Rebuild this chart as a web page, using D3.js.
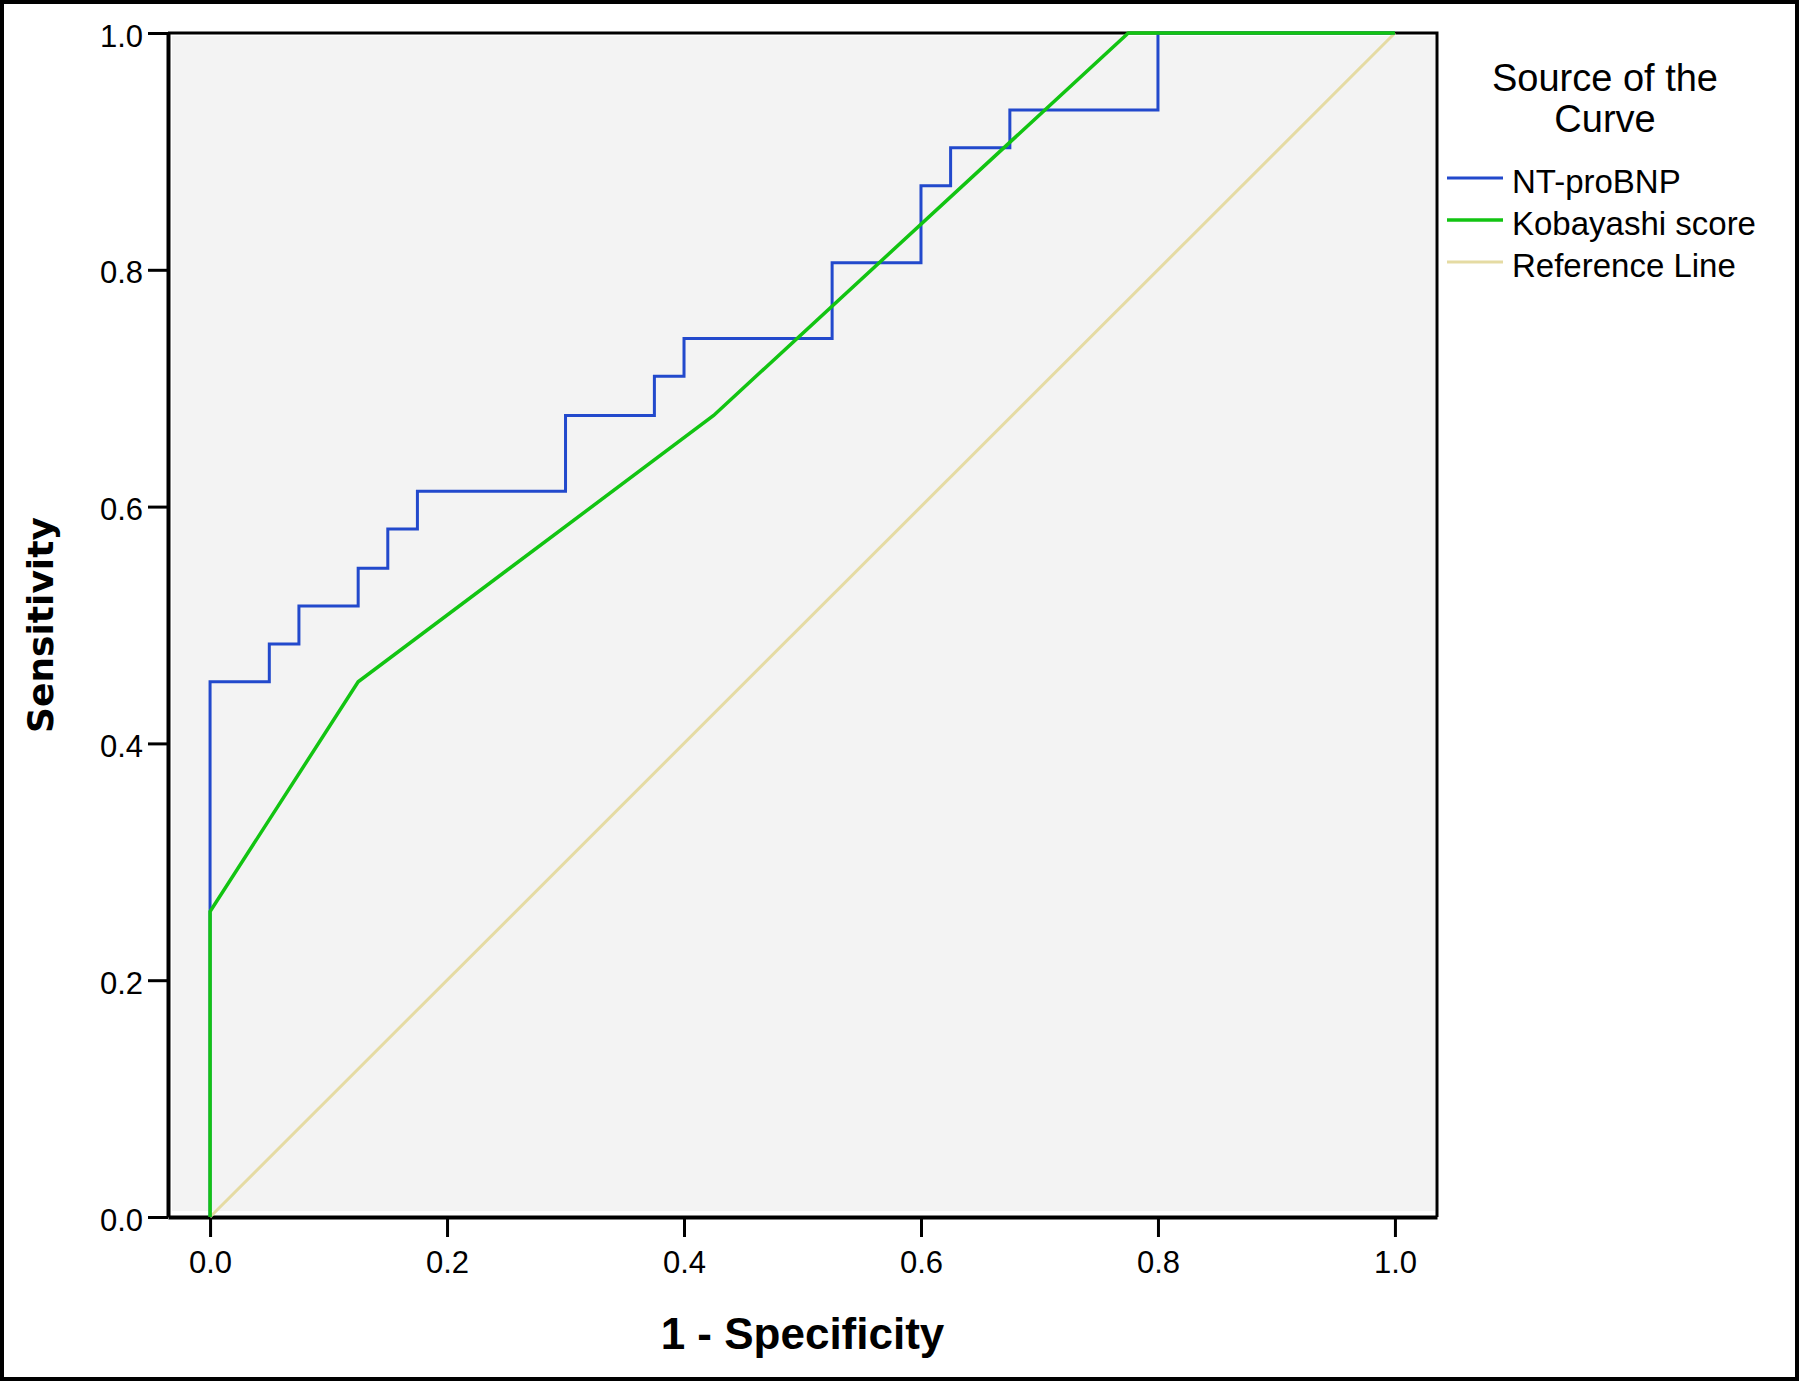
<!DOCTYPE html>
<html>
<head>
<meta charset="utf-8">
<script src="https://cdn.jsdelivr.net/npm/d3@7"></script>
<style>
  body { margin: 0; background: #fff; }
  text { font-family: "Liberation Sans", Arial, sans-serif; fill: #000; }
</style>
</head>
<body>
<div id="roc"></div>
<script>
// ROC points (1 - specificity, sensitivity)
const ntFpr = [0, 0, 0.05, 0.05, 0.075, 0.075, 0.125, 0.125, 0.15, 0.15, 0.175, 0.175, 0.3, 0.3, 0.375, 0.375, 0.4, 0.4, 0.525, 0.525, 0.6, 0.6, 0.625, 0.625, 0.675, 0.675, 0.8, 0.8, 1.0];
const ntTpr = [0, 0.452, 0.452, 0.484, 0.484, 0.516, 0.516, 0.548, 0.548, 0.581, 0.581, 0.613, 0.613, 0.677, 0.677, 0.710, 0.710, 0.742, 0.742, 0.806, 0.806, 0.871, 0.871, 0.903, 0.903, 0.935, 0.935, 1.0, 1.0];
const kobFpr = [0, 0, 0.125, 0.425, 0.775, 1.0];
const kobTpr = [0, 0.258, 0.452, 0.677, 1.0, 1.0];
const refFpr = [0, 1];
const refTpr = [0, 1];
const seriesNames = ["NT-proBNP", "Kobayashi score", "Reference Line"];
const tickValues = [0, 0.2, 0.4, 0.6, 0.8, 1.0];

chartMaker();

function chartMaker() {
  const width = 1800;
  const height = 1382;
  const plot = { left: 168, right: 1437, top: 33, bottom: 1217 };
  const colors = ["#2249cc", "#12c412", "#e5dba3"];

  const svg = d3.select("#roc")
    .append("svg")
      .attr("width", width)
      .attr("height", height);

  svg.append("rect")
    .attr("x", 0).attr("y", 0)
    .attr("width", width).attr("height", height)
    .attr("fill", "#fff");

  const xScale = d3.scaleLinear()
    .domain([-0.0355, 1.0355])
    .range([plot.left, plot.right]);

  const yScale = d3.scaleLinear()
    .domain([0, 1])
    .range([plot.bottom, plot.top]);

  // plot background
  svg.append("rect")
    .attr("x", plot.left + 4)
    .attr("y", plot.top + 3)
    .attr("width", plot.right - plot.left - 6)
    .attr("height", plot.bottom - plot.top - 9)
    .attr("fill", "#f3f3f3");

  // frame top + right
  svg.append("path")
    .attr("d", `M${plot.left},${plot.top}H${plot.right}V${plot.bottom}`)
    .attr("fill", "none")
    .attr("stroke", "#000")
    .attr("stroke-width", 3);

  const xAxis = d3.axisBottom(xScale)
    .tickValues(tickValues)
    .tickFormat(d3.format(".1f"))
    .tickSizeInner(20)
    .tickSizeOuter(0)
    .tickPadding(14);

  const yAxis = d3.axisLeft(yScale)
    .tickValues(tickValues)
    .tickFormat(d3.format(".1f"))
    .tickSizeInner(20)
    .tickSizeOuter(0)
    .tickPadding(5);

  const gx = svg.append("g")
    .attr("transform", `translate(0,${plot.bottom})`)
    .call(xAxis);

  const gy = svg.append("g")
    .attr("transform", `translate(${plot.left},0)`)
    .call(yAxis);

  [gx, gy].forEach(g => {
    g.select(".domain").attr("stroke", "#000").attr("stroke-width", 4);
    g.selectAll(".tick line").attr("stroke", "#000").attr("stroke-width", 3);
    g.selectAll(".tick text")
      .style("font-family", '"Liberation Sans", Arial, sans-serif')
      .style("font-size", "31px")
      .attr("fill", "#000");
  });
  gy.selectAll(".tick text").attr("dy", "0.42em");

  const line = d3.line()
    .x(d => xScale(d[0]))
    .y(d => yScale(d[1]));

  const curves = [
    { fpr: ntFpr, tpr: ntTpr, color: colors[0], w: 3 },
    { fpr: kobFpr, tpr: kobTpr, color: colors[1], w: 3.5 },
    { fpr: refFpr, tpr: refTpr, color: colors[2], w: 3 }
  ];

  // reference underneath, green on top
  [2, 0, 1].forEach(i => {
    const c = curves[i];
    svg.append("path")
      .datum(c.fpr.map((f, j) => [f, c.tpr[j]]))
      .attr("d", line)
      .attr("fill", "none")
      .attr("stroke", c.color)
      .attr("stroke-width", c.w)
      .attr("stroke-linejoin", "miter");
  });

  // axis titles
  svg.append("text")
    .attr("x", (plot.left + plot.right) / 2)
    .attr("y", 1349)
    .attr("text-anchor", "middle")
    .style("font-weight", "bold")
    .style("font-size", "44px")
    .text("1 - Specificity");

  svg.append("text")
    .attr("transform", `translate(53,${(plot.top + plot.bottom) / 2}) rotate(-90)`)
    .attr("text-anchor", "middle")
    .style("font-family", '"DejaVu Sans", sans-serif')
    .style("font-weight", "bold")
    .style("font-size", "36px")
    .text("Sensitivity");

  // legend
  const legend = svg.append("g").attr("class", "legend");
  legend.selectAll("text.title")
    .data(["Source of the", "Curve"])
    .enter()
    .append("text")
      .attr("class", "title")
      .attr("x", 1605)
      .attr("y", (d, i) => 91 + i * 41)
      .attr("text-anchor", "middle")
      .style("font-size", "38px")
      .text(d => d);

  const items = legend.selectAll("g.item")
    .data(seriesNames)
    .enter()
    .append("g")
      .attr("class", "item")
      .attr("transform", (d, i) => `translate(0,${178 + i * 42})`);

  items.append("line")
    .attr("x1", 1447).attr("x2", 1503)
    .attr("y1", 0).attr("y2", 0)
    .attr("stroke", (d, i) => colors[i])
    .attr("stroke-width", (d, i) => curves[i].w);

  items.append("text")
    .attr("x", 1512)
    .attr("y", 15)
    .style("font-size", "33px")
    .text(d => d);

  // outer border
  svg.append("rect")
    .attr("x", 2).attr("y", 2)
    .attr("width", width - 5).attr("height", height - 5)
    .attr("fill", "none")
    .attr("stroke", "#000")
    .attr("stroke-width", 4);
}
</script>
</body>
</html>
